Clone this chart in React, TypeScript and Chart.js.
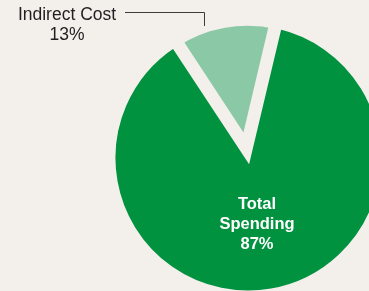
import React, { useEffect, useRef } from "react";
import { Chart, registerables } from "chart.js";

Chart.register(...registerables);

const categories = ["Indirect Cost", "Total Spending"];
const shares = [13, 87];
const sliceColors = ["#8bc9a6", "#00923f"];
const BG = "#f3efeb";

const labelPlugin = {
  id: "sliceLabels",
  afterDraw(chart: any) {
    const ctx = chart.ctx;
    ctx.save();
    // outside label for Indirect Cost
    ctx.fillStyle = "#231f20";
    ctx.textAlign = "center";
    ctx.textBaseline = "alphabetic";
    ctx.font = "17.5px 'Liberation Sans', Arial, sans-serif";
    ctx.fillText(categories[0], 67, 19.5);
    ctx.fillText(shares[0] + "%", 67, 39.5);
    // leader line
    ctx.strokeStyle = "#3c3c3c";
    ctx.lineWidth = 1;
    ctx.beginPath();
    ctx.moveTo(125, 12.5);
    ctx.lineTo(204.5, 12.5);
    ctx.lineTo(204.5, 26);
    ctx.stroke();
    // inside label for Total Spending
    ctx.fillStyle = "#ffffff";
    ctx.font = "bold 16.5px 'Liberation Sans', Arial, sans-serif";
    const words = categories[1].split(" ");
    ctx.fillText(words[0], 257, 209);
    ctx.fillText(words[1], 257, 229);
    ctx.fillText(shares[1] + "%", 257, 249);
    ctx.restore();
  },
};

export default function App() {
  const ref = useRef<HTMLCanvasElement>(null);
  useEffect(() => {
    if (!ref.current) return;
    const chart = new Chart(ref.current, {
      type: "pie",
      data: {
        labels: categories,
        datasets: [
          {
            data: shares,
            backgroundColor: sliceColors,
            borderColor: BG,
            borderWidth: [17, 5],
            borderAlign: "center",
            borderJoinStyle: "miter",
            offset: [18, 0],
            clip: false,
          } as any,
        ],
      },
      options: {
        responsive: false,
        maintainAspectRatio: false,
        devicePixelRatio: 1,
        animation: false,
        rotation: -33.4,
        radius: 135,
        layout: { padding: { left: 127, right: 0, top: 25, bottom: 0 } },
        plugins: { legend: { display: false }, tooltip: { enabled: false } },
      } as any,
      plugins: [labelPlugin],
    });
    return () => chart.destroy();
  }, []);
  return (
    <div
      style={{
        position: "fixed",
        left: 0,
        top: 0,
        width: 369,
        height: 291,
        overflow: "hidden",
        background: BG,
      }}
    >
      <canvas ref={ref} width={369} height={291} style={{ display: "block" }} />
    </div>
  );
}
